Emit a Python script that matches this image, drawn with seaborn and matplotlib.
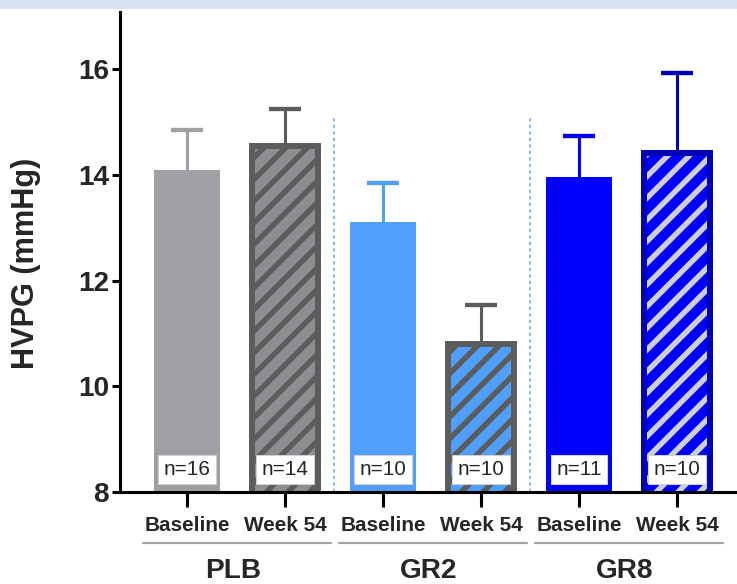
import numpy as np
import pandas as pd
import matplotlib
matplotlib.use("Agg")
from matplotlib import pyplot as plt
from matplotlib.patches import Rectangle
import matplotlib.transforms as mtransforms
import seaborn as sns

# data
groups = ["PLB", "GR2", "GR8"]
visits = ["Baseline", "Week 54"]
means = [14.09, 14.54, 13.11, 10.80, 13.96, 14.41]
errs = [0.76, 0.70, 0.73, 0.74, 0.77, 1.51]
n_counts = [16, 14, 10, 10, 11, 10]

fill_colors = ["#a0a0a4", "#8e8e92", "#4f9ffb", "#4f9ffb", "#0000ff", "#0000ff"]
line_colors = ["#a0a0a4", "#5c5c5c", "#4f9ffb", "#5c5c5c", "#0000ff", "#0000b4"]
hatch_colors = [None, "#5c5c5c", None, "#5c5c5c", None, "#cfcfcf"]

bar_ids = [g + " " + v for g in groups for v in visits]
df = pd.DataFrame({"bar": bar_ids, "hvpg": means})

sns.set_style("ticks")
plt.rcParams["font.family"] = ["Liberation Sans", "DejaVu Sans"]
plt.rcParams["hatch.linewidth"] = 3.0

DPI = 130
fig = plt.figure(figsize=(737 / DPI, 584 / DPI), dpi=DPI)
ax = fig.add_axes([120 / 737, 92 / 584, 617 / 737, 480 / 584])

sns.barplot(data=df, x="bar", y="hvpg", hue="bar", order=bar_ids,
            palette=dict(zip(bar_ids, fill_colors)), saturation=1,
            width=0.67, errorbar=None, legend=False, ax=ax)

# hatching / outlines for week 54 bars
for i, p in enumerate(ax.patches):
    p.set_linewidth(0)
    if hatch_colors[i] is not None:
        p.set_hatch("//")
        p.set_edgecolor(hatch_colors[i])
        ax.add_patch(Rectangle((p.get_x(), p.get_y()), p.get_width(), p.get_height(),
                               fill=False, edgecolor=line_colors[i], lw=3.3, zorder=1.5))

# upper error bars (lower half hidden behind bar)
for i in range(len(means)):
    ax.errorbar(i, means[i], yerr=errs[i], fmt="none", ecolor=line_colors[i],
                elinewidth=1.7, capsize=9, capthick=2.4, zorder=0.5)

# n labels
for i, n in enumerate(n_counts):
    ax.text(i, 8.42, f"n={n}", ha="center", va="center", fontsize=11.5,
            bbox=dict(boxstyle="square,pad=0.25", fc="white", ec="#d0d0d0", lw=0.6), zorder=3)

ax.set_xlim(-0.684, 5.612)
ax.set_ylim(8, 17.08)
ax.set_yticks([8, 10, 12, 14, 16])
ax.set_yticklabels(["8", "10", "12", "14", "16"], fontsize=15.5, fontweight="bold")
ax.set_xticks(range(len(bar_ids)))
ax.set_xticklabels(visits * len(groups), fontsize=11.5, fontweight="bold")
ax.tick_params(axis="y", length=4.5, width=1.7, pad=1.5, color="black")
ax.tick_params(axis="x", length=8.3, width=1.7, pad=5, color="black")
ax.set_xlabel("")
ax.set_ylabel("HVPG (mmHg)", fontsize=17, fontweight="bold")
ax.yaxis.set_label_coords(-0.128, 0.477)

sns.despine(ax=ax)
for s in ["left", "bottom"]:
    ax.spines[s].set_linewidth(1.7)
    ax.spines[s].set_color("black")

# group separators
ax.vlines([1.5, 3.5], 8, 15.1, colors="#6fa8dc", linestyles=(0, (2, 2)), lw=0.9, zorder=0.4)

# group underlines and names
trans = mtransforms.blended_transform_factory(ax.transData, ax.transAxes)
for gi, g in enumerate(groups):
    x0 = gi * 2
    x1 = gi * 2 + 1
    ax.plot([x0 - 0.45, x1 + 0.47], [-0.106, -0.106], transform=trans, color="#a3a3a3",
            lw=1.2, clip_on=False)
    ax.text((x0 + x1) / 2 - 0.03, -0.165, g, transform=trans, ha="center", va="center",
            fontsize=15.5, fontweight="bold")

# pale band across the top
fig.patches.append(Rectangle((0, 1 - 8 / 584), 1, 8 / 584, transform=fig.transFigure,
                             color="#d6e4f1", zorder=0))

fig.savefig("out.png", dpi=DPI)
